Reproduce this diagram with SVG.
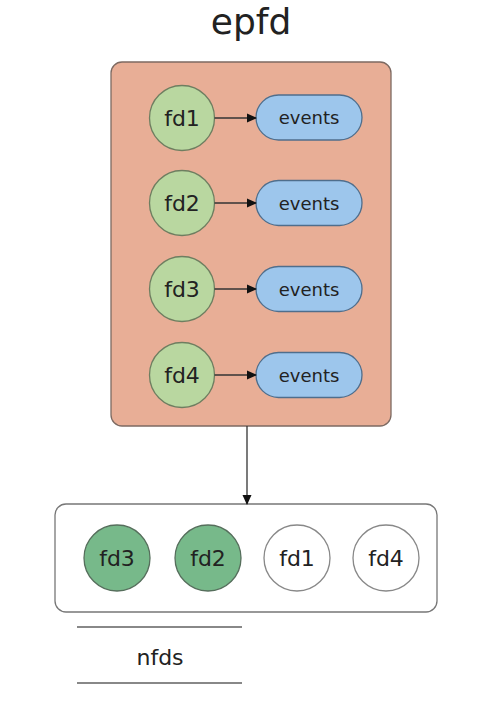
<svg xmlns="http://www.w3.org/2000/svg" width="478" height="706" viewBox="0 0 478 706">
<style>
text{font-family:"DejaVu Sans","Liberation Sans",sans-serif;fill:#222;text-anchor:middle;dominant-baseline:central}
.fd{fill:#B9D7A0;stroke:#6E7E60;stroke-width:1.3}
.ev{fill:#9DC6EC;stroke:#4F6E8C;stroke-width:1.3}
.on{fill:#77B98A;stroke:#566E5C;stroke-width:1.3}
.off{fill:#fff;stroke:#888;stroke-width:1.3}
.c{font-size:22px}
.e{font-size:18px}
.ln{stroke:#333;stroke-width:1.3;fill:none}
</style>
<defs>
<marker id="ah" markerWidth="10" markerHeight="10" refX="9" refY="5" orient="auto" markerUnits="userSpaceOnUse">
<path d="M0,0.5 L10,5 L0,9.5 Z" fill="#111"/>
</marker>
</defs>
<text x="251" y="21" style="font-size:36px">epfd</text>
<g id="epfd">
<rect x="111" y="62" width="280" height="364" rx="11" fill="#E8AE96" stroke="#7D6A62" stroke-width="1.3"/>
</g>
<g id="fd1"><circle class="fd" cx="182" cy="118" r="32.5"/><text class="c" x="182" y="118">fd1</text></g>
<g id="fd2"><circle class="fd" cx="182" cy="203" r="32.5"/><text class="c" x="182" y="203">fd2</text></g>
<g id="fd3"><circle class="fd" cx="182" cy="289" r="32.5"/><text class="c" x="182" y="289">fd3</text></g>
<g id="fd4"><circle class="fd" cx="182" cy="375" r="32.5"/><text class="c" x="182" y="375">fd4</text></g>
<g id="ev1"><rect class="ev" x="256" y="95" width="106" height="45" rx="22.5"/><text class="e" x="309" y="117.5">events</text></g>
<g id="ev2"><rect class="ev" x="256" y="180.5" width="106" height="45" rx="22.5"/><text class="e" x="309" y="203">events</text></g>
<g id="ev3"><rect class="ev" x="256" y="266.5" width="106" height="45" rx="22.5"/><text class="e" x="309" y="289">events</text></g>
<g id="ev4"><rect class="ev" x="256" y="352.5" width="106" height="45" rx="22.5"/><text class="e" x="309" y="375">events</text></g>
<g id="ready">
<rect x="55" y="504" width="382" height="108" rx="11" fill="#fff" stroke="#777" stroke-width="1.3"/>
</g>
<g id="r-fd3"><circle class="on" cx="117" cy="558" r="33"/><text class="c" x="117" y="558">fd3</text></g>
<g id="r-fd2"><circle class="on" cx="208" cy="558" r="33"/><text class="c" x="208" y="558">fd2</text></g>
<g id="r-fd1"><circle class="off" cx="297" cy="558" r="33"/><text class="c" x="297" y="558">fd1</text></g>
<g id="r-fd4"><circle class="off" cx="386" cy="558" r="33"/><text class="c" x="386" y="558">fd4</text></g>
<g id="nfds">
<line x1="77" y1="627" x2="242" y2="627" stroke="#888" stroke-width="2"/>
<line x1="77" y1="683" x2="242" y2="683" stroke="#888" stroke-width="2"/>
<text x="160" y="657" style="font-size:22px">nfds</text>
</g>
<g id="connectors">
<line class="ln" x1="214.5" y1="118" x2="256" y2="118" marker-end="url(#ah)"/>
<line class="ln" x1="214.5" y1="203" x2="256" y2="203" marker-end="url(#ah)"/>
<line class="ln" x1="214.5" y1="289" x2="256" y2="289" marker-end="url(#ah)"/>
<line class="ln" x1="214.5" y1="375" x2="256" y2="375" marker-end="url(#ah)"/>
<line class="ln" x1="247" y1="426" x2="247" y2="504" marker-end="url(#ah)"/>
</g>
</svg>
